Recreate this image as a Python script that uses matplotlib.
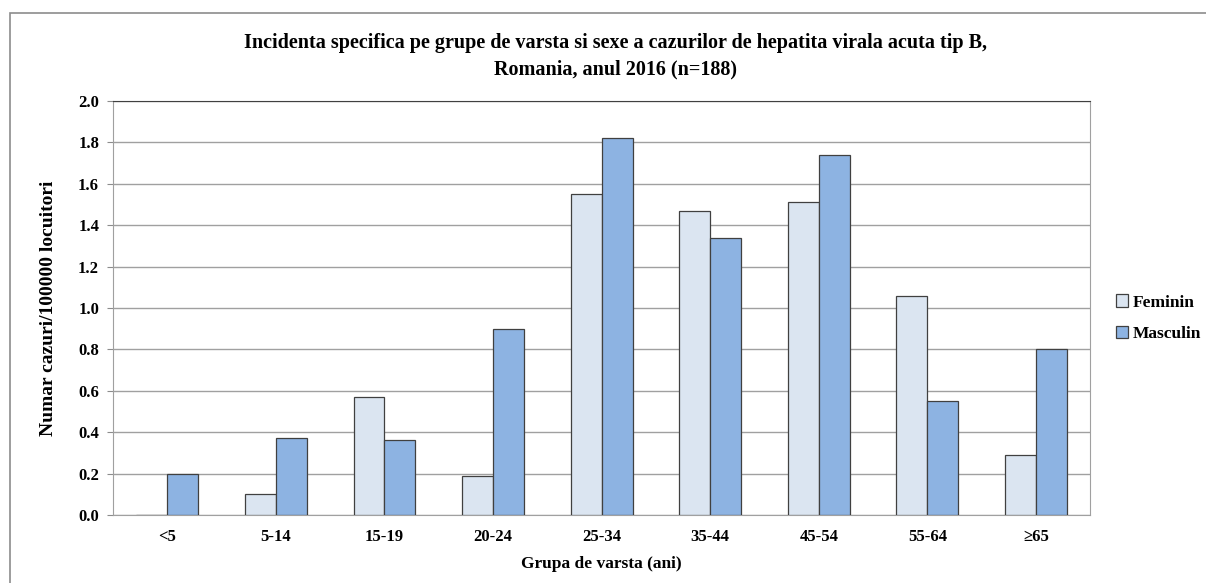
import matplotlib
matplotlib.use("Agg")
import matplotlib.pyplot as plt
import numpy as np
from matplotlib.patches import Rectangle

groups = ["<5", "5-14", "15-19", "20-24", "25-34", "35-44", "45-54", "55-64", "≥65"]
feminin = [0.0, 0.10, 0.57, 0.19, 1.55, 1.47, 1.51, 1.06, 0.29]
masculin = [0.20, 0.37, 0.36, 0.90, 1.82, 1.34, 1.74, 0.55, 0.80]
yticks = [0.0, 0.2, 0.4, 0.6, 0.8, 1.0, 1.2, 1.4, 1.6, 1.8, 2.0]

plt.rcParams['font.family'] = ['Liberation Serif', 'DejaVu Serif']
plt.rcParams['font.weight'] = 'bold'

fig = plt.figure(figsize=(12.06, 5.83), dpi=100)
ax = fig.add_axes([0.0937, 0.1166, 0.8103, 0.7102])

# outer chart frame
fig.patches.append(Rectangle((0.0083, -0.05), 1.0, 1.0277, transform=fig.transFigure,
                             fill=False, edgecolor='#8c8c8c', linewidth=1.2))

x = np.arange(len(groups))
w = 0.285
ax.bar(x - w / 2, feminin, w, color='#DBE5F1', edgecolor='#404040', linewidth=0.9,
       label='Feminin', zorder=3)
ax.bar(x + w / 2, masculin, w, color='#8DB3E2', edgecolor='#404040', linewidth=0.9,
       label='Masculin', zorder=3)

ax.set_xlim(-0.5, len(groups) - 0.5)
ax.set_ylim(0, 2.0)
ax.set_yticks(yticks)
ax.set_yticklabels([f"{v:.1f}" for v in yticks])
ax.set_xticks(x)
ax.set_xticklabels(groups)
ax.tick_params(axis='x', length=0, pad=10, labelsize=12)
ax.tick_params(axis='y', length=4, color='#8c8c8c', pad=6, labelsize=12)
ax.grid(axis='y', color='#a0a0a0', linewidth=1.0, zorder=0)

for s in ['left', 'bottom', 'right']:
    ax.spines[s].set_color('#a0a0a0')
ax.spines['top'].set_color('#404040')

ax.set_xlabel("Grupa de varsta (ani)", fontsize=12.5, fontweight='bold', labelpad=8)
ax.set_ylabel("Numar cazuri/100000 locuitori", fontsize=14, fontweight='bold', labelpad=15)
fig.text(0.51, 0.903, "Incidenta specifica pe grupe de varsta si sexe a cazurilor de hepatita virala acuta tip B,\nRomania, anul 2016 (n=188)",
         ha='center', va='center', fontsize=14.5, fontweight='bold', linespacing=1.45)

ax.legend(loc='center left', bbox_to_anchor=(1.01, 0.475), frameon=False, fontsize=12.5,
          handlelength=0.7, handleheight=0.7, handletextpad=0.3, labelspacing=0.9)

fig.savefig("out.png", dpi=100)
